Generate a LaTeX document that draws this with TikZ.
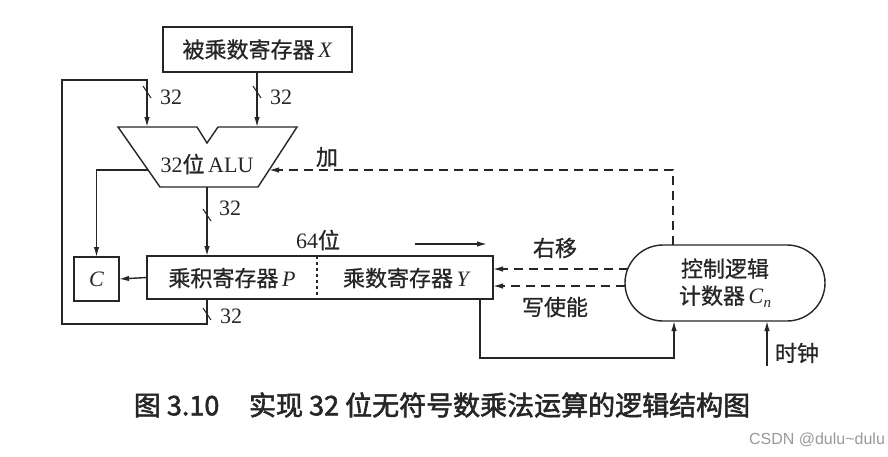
\documentclass[tikz,border=0pt]{standalone}
\usepackage{fontspec}
\setmainfont{Liberation Serif}
\newfontfamily\cjk[FakeBold=0.8]{Noto Sans CJK SC}
\newfontfamily\cjkb[FakeBold=2]{Noto Sans CJK SC}
\newfontfamily\wmfont{Liberation Sans}
\usetikzlibrary{arrows.meta,calc}
\begin{document}
\begin{tikzpicture}[x=1pt,y=-1pt, line width=1.4pt, color=black!85,
  every node/.style={inner sep=0pt, outer sep=0pt},
  box/.style={draw, line width=1.4pt, fill=white},
  lbl/.style={font=\fontsize{22}{27}\selectfont},
  arr/.style={-{Latex[length=10pt,width=5.5pt]}},
  dsh/.style={dash pattern=on 9pt off 6pt},
  tick/.style={line width=1.1pt}]
\useasboundingbox (0,0) rectangle (888,456);
\fill[white] (0,0) rectangle (888,456);

% nodes
\node[box, minimum width=189pt, minimum height=45pt, lbl] (X) at (257.5,49.5) {{\cjk 被乘数寄存器}\,\textit{X}};
\draw[fill=white] (118,127) -- (197,127) -- (207,143) -- (218,127) -- (297,127) -- (258,187) -- (160,187) -- cycle;
\node[lbl] (alu) at (207,164) {32{\cjk 位}\,ALU};
\coordinate (aluL) at (147,127);
\coordinate (aluR) at (257,127);
\coordinate (aluB) at (207,187);
\coordinate (aluW) at (148,170);
\coordinate (aluE) at (269,170);

\node[box, minimum width=45pt, minimum height=44pt, lbl] (C) at (96.5,279) {\textit{C}};
\node[box, minimum width=346pt, minimum height=43pt] (reg) at (320,277.5) {};
\coordinate (div) at (317,0);
\draw[dashed, line width=1.1pt] (div |- reg.north) -- (div |- reg.south);
\node[lbl] (P) at (232,278) {{\cjk 乘积寄存器}\,\textit{P}};
\node[lbl] (Y) at (407,278) {{\cjk 乘数寄存器}\,\textit{Y}};
\node[lbl] (b64) at (318,240) {64{\cjk 位}};
\coordinate (s1) at (415,244);
\coordinate (s2) at (487,244);
\draw[arr] (s1) -- (s2);

\node[box, rounded corners=38pt, minimum width=200pt, minimum height=76pt, align=center, lbl] (ctrl) at (725,283)
  {{\cjk 控制逻辑}\\{\cjk 计数器}\,\textit{C}\raisebox{-0.35ex}{\fontsize{15}{15}\selectfont\textit{n}}};

% connectors
\draw[arr] (X.south -| aluR) -- (aluR);
\draw[arr] (aluB) -- (aluB |- reg.north);
\draw[arr] (aluW) -| (C.north);
\draw[arr] (reg.west) -- (C.east);
\coordinate (fb1) at (207,324);
\coordinate (fb2) at (62,324);
\coordinate (fb3) at (62,80);
\coordinate (fb4) at (147,80);
\draw[arr] (aluB |- reg.south) -- (fb1) -- (fb2) -- (fb3) -- (fb4) -- (aluL);

\coordinate (d1) at (673,170);
\draw[arr,dsh] (d1 |- ctrl.north) -- (d1) -- (aluE);
\coordinate (r1) at (0,269);
\coordinate (r2) at (0,286);
\draw[arr,dsh] ($(ctrl.west |- r1)+(2.7,0)$) -- (reg.east |- r1);
\draw[arr,dsh] ($(ctrl.west |- r2)+(0.2,0)$) -- (reg.east |- r2);

\coordinate (yb) at (480,358);
\coordinate (cb) at (674,358);
\draw[arr] (yb |- reg.south) -- (yb) -- (cb) -- (cb |- ctrl.south);
\coordinate (clk) at (767,366);
\draw[arr] (clk) -- (clk |- ctrl.south);

% bus width ticks and labels
\foreach \p in {(147,92),(257,92),(207,215),(207,314)}
  \draw[tick] \p ++(-4,-6) -- ++(8,12);
\node[lbl] (n1) at (171,97) {32};
\node[lbl] (n2) at (281,97) {32};
\node[lbl] (n3) at (230,208) {32};
\node[lbl] (n4) at (231,316) {32};

\node[lbl] (add) at (327,157) {\cjk 加};
\node[lbl] (shr) at (555,248) {\cjk 右移};
\node[lbl] (we) at (555,307) {\cjk 写使能};
\node[lbl] (clkl) at (797,353) {\cjk 时钟};

\node[font=\cjkb\fontsize{27}{30}\selectfont] (cap) at (442,405) {图 3.10\hspace{1.1em}实现 32 位无符号数乘法运算的逻辑结构图};
\node[font=\wmfont\fontsize{16}{18}\selectfont, color=black!40] (wm) at (817,440) {CSDN @dulu\textasciitilde dulu};
\end{tikzpicture}
\end{document}
